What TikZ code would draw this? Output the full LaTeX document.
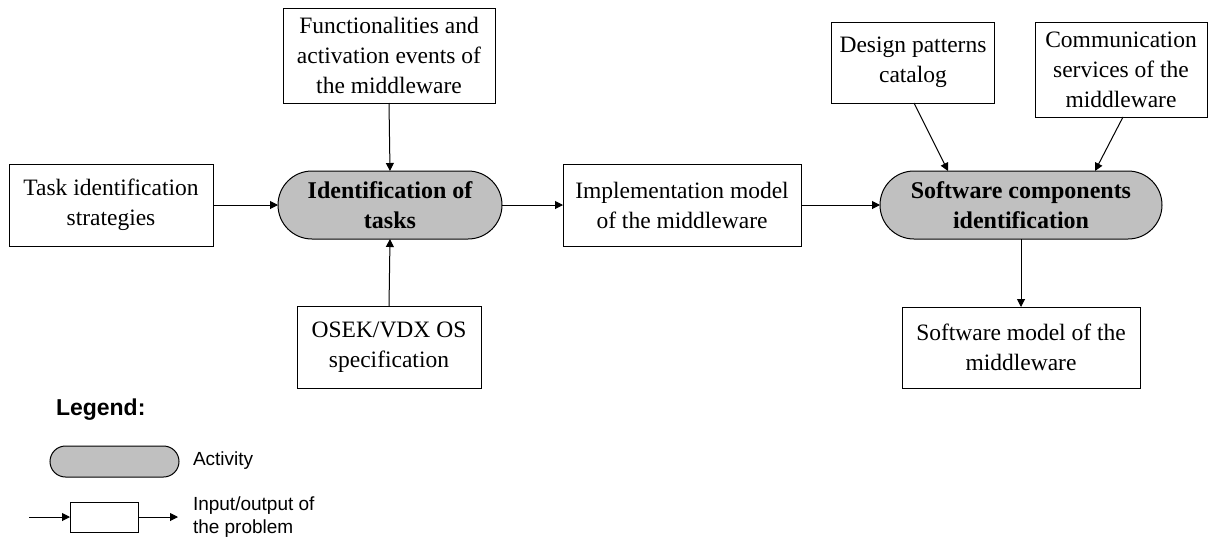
\documentclass[tikz,border=0pt]{standalone}
\usepackage{fontspec}
\setmainfont{Liberation Serif}
\setsansfont{Liberation Sans}
\usetikzlibrary{arrows.meta}
\definecolor{actgray}{RGB}{192,192,192}
\begin{document}
\begin{tikzpicture}[x=1pt,y=-1pt,
  every node/.style={inner sep=0pt, outer sep=0pt},
  iobox/.style={draw, line width=1pt, fill=white, align=center,
    font=\fontsize{23.5}{30}\selectfont},
  activity/.style={draw, line width=1pt, fill=actgray, rounded corners=34pt, align=center,
    font=\fontsize{24}{30}\selectfont\bfseries, minimum height=68pt},
  flow/.style={line width=1pt, -{Triangle[length=8pt,width=8pt]}},
  legtext/.style={font=\sffamily\fontsize{19}{23}\selectfont, align=left, anchor=west}
]
\useasboundingbox (0,0) rectangle (1208,539);

% main flow
\node[iobox, minimum width=212pt, minimum height=95pt] (func) at (389,55.5)
  {Functionalities and\\activation events of\\the middleware};
\node[iobox, minimum width=204pt, minimum height=82pt] (task) at (111,205)
  {Task identification\\strategies};
\node[activity, minimum width=224pt] (act1) at (390,205)
  {Identification of\\tasks};
\node[iobox, minimum width=184pt, minimum height=82pt] (osek) at (389,347.5)
  {OSEK/VDX OS\\specification};
\node[iobox, minimum width=238pt, minimum height=82pt] (impl) at (682,205)
  {Implementation model\\of the middleware};
\node[activity, minimum width=282pt] (act2) at (1021,205)
  {Software components\\identification};
\node[iobox, minimum width=163pt, minimum height=81pt] (design) at (913,62.5)
  {Design patterns\\catalog};
\node[iobox, minimum width=172pt, minimum height=95pt] (comm) at (1121,69.5)
  {Communication\\services of the\\middleware};
\node[iobox, minimum width=238pt, minimum height=81pt] (swm) at (1021,347.5)
  {Software model of the\\middleware};

\draw[flow] (func.south) -- (act1.north);
\draw[flow] (osek.north) -- (act1.south);
\draw[flow] (task.east) -- (act1.west);
\draw[flow] (act1.east) -- (impl.west);
\draw[flow] (impl.east) -- (act2.west);
\coordinate (d1) at ([xshift=68pt]act2.north west);
\coordinate (c1) at ([xshift=-67pt]act2.north east);
\draw[flow] ([xshift=1pt]design.south) -- (d1);
\draw[flow] ([xshift=2pt]comm.south) -- (c1);
\draw[flow] (act2.south) -- (swm.north);

% legend
\node[anchor=west, font=\sffamily\bfseries\fontsize{23}{28}\selectfont] (leg) at (56,410) {Legend:};
\node[draw, line width=1pt, fill=actgray, rounded corners=15.5pt,
  minimum width=129pt, minimum height=31pt] (legact) at (114.5,461.5) {};
\node[legtext] (legacttxt) at (193,461) {Activity};
\node[draw, line width=1pt, fill=white, minimum width=68pt, minimum height=30pt] (legbox) at (104,517) {};
\coordinate (legin) at (29,517);
\coordinate (legout) at (178,517);
\draw[flow] (legin) -- (legbox.west);
\draw[flow] (legbox.east) -- (legout);
\node[legtext] (legiotxt) at (193,517) {Input/output of\\the problem};
\end{tikzpicture}
\end{document}
